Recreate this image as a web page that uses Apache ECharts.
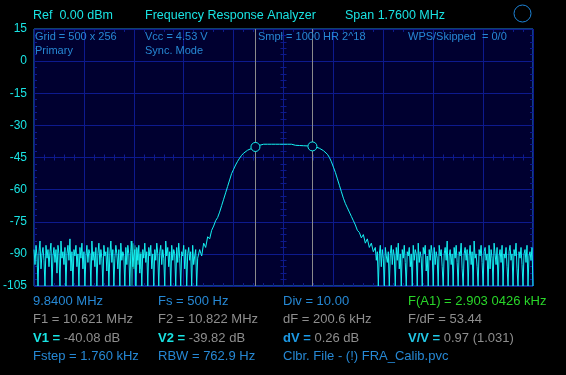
<!DOCTYPE html>
<html>
<head>
<meta charset="utf-8">
<script src="https://cdn.jsdelivr.net/npm/echarts@6/dist/echarts.min.js"></script>
<style>
html,body{margin:0;padding:0;background:#000;}
#c{width:566px;height:375px;}
</style>
</head>
<body>
<div id="c"></div>
<script>
// ---- data ----
var startMHz = 9.84;            // left edge of span
var spanMHz = 1.76;             // span
var yTicks = [15, 0, -15, -30, -45, -60, -75, -90, -105];

// left noise floor, sampled every 3.52 kHz from the start of span
var noiseLeftStartKHz = 0, noiseLeftStepKHz = 3.52;
var noiseLeft = [
  -88,-95,-86,-91,-105,-89,-84,-97,-90,-87,-93,-105,-86,-92,-88,
  -96,-89,-85,-105,-91,-87,-94,-88,-99,-86,-90,-105,-84,-92,-89,
  -95,-87,-105,-90,-86,-93,-83,-98,-89,-105,-88,-91,-86,-96,-90,
  -105,-87,-92,-85,-97,-89,-105,-91,-86,-94,-88,-90,-105,-84,-93,
  -89,-96,-87,-105,-90,-85,-95,-88,-92,-105,-86,-91,-89,-98,-87,
  -105,-90,-84,-94,-88,-105,-92,-86,-90,-97,-88,-105,-85,-93,-89,
  -91,-105,-87,-95,-86,-90,-105,-89,-84,-96,-91,-88,-105,-87,-93,
  -86,-99,-90,-105,-88,-92,-85,-94,-89,-105,-87,-91,-86,-97,-90,
  -105,-88,-93,-85,-90,-105,-89,-86,-95,-88,-92,-105,-84,-91,-87,
  -96,-89,-105,-86,-93,-88,-90,-105,-87,-94,-85,-92,-105,-89,-91,
  -86,-97,-88,-105,-90,-87,-93,-89,-105,-86,-95,-91,-88,-105,-92
];
// filter response, sampled every 7.04 kHz
var passStartKHz = 584.32, passStepKHz = 7.04;
var passband = [
  -88,-91,-85,-87,-82,-83,-79,-77,-74.5,-73,
  -70.5,-67.5,-64.5,-61.5,-58.5,-55.5,-52.5,-50.5,-48.5,-46.8,
  -45.3,-44,-43,-42.2,-41.6,-41.2,-40.8,-40.5,-40.1,-39.8,
  -39.3,-39.0,-38.8,-38.8,-38.8,-38.8,-38.8,-38.8,-38.8,-38.8,
  -38.8,-38.8,-38.8,-38.8,-38.8,-38.8,-38.8,-38.9,-39.3,-39.4,
  -39.4,-39.5,-39.5,-39.5,-39.6,-39.6,-39.7,-39.8,-40.0,-40.3,
  -40.7,-41.2,-41.8,-42.5,-43.5,-45,-47,-49.5,-52,-55,
  -58,-61,-64,-66.5,-68.5,-70.5,-72.5,-74.5,-76.5,-79,
  -80,-82.5,-81,-85,-83,-87,-85,-89
];
// right noise floor, sampled every 3.52 kHz
var noiseRightStartKHz = 1203.84, noiseRightStepKHz = 3.52;
var noiseRight = [
  -87,-93,-89,-105,-90,-86,-96,-88,-92,-105,-87,-91,-94,-89,-105,
  -90,-86,-95,-88,-91,-105,-87,-93,-85,-97,-90,-105,-88,-92,-86,
  -94,-105,-89,-91,-87,-96,-90,-105,-86,-93,-88,-90,-105,-85,-94,
  -89,-92,-105,-87,-90,-86,-98,-91,-105,-88,-93,-86,-90,-105,-87,
  -95,-89,-92,-105,-86,-91,-88,-96,-105,-90,-87,-93,-84,-105,-91,
  -88,-95,-90,-105,-87,-92,-86,-94,-105,-89,-91,-85,-97,-105,-90,
  -87,-93,-88,-105,-91,-86,-95,-89,-105,-84,-92,-90,-96,-105,-88,
  -91,-86,-94,-105,-89,-87,-93,-90,-105,-86,-97,-88,-92,-105,-85,
  -90,-95,-87,-105,-91,-88,-94,-86,-105,-90,-92,-87,-96,-105,-89,
  -86,-93,-90,-105,-88,-91,-85,-97,-105,-89,-92,-87,-95,-105,-90,
  -88,-94,-86,-105,-91,-89,-93,-87,-105
];
// faint held trace fragment (darker teal) inside left noise
var heldStartKHz = 342.0, heldStepKHz = 3.52;
var held = [-84, -105, -85, -97, -86, -105, -88, -95, -90, -97, -89];

var markerF = [10.621, 10.822];   // MHz
var markerV = [-40.08, -39.82];   // dB

// ---- build ----
function seg(vals, start, step) { return vals.map(function (v, i) { return [start + i * step, v]; }); }
var trace = seg(noiseLeft, noiseLeftStartKHz, noiseLeftStepKHz)
  .concat(seg(passband, passStartKHz, passStepKHz))
  .concat(seg(noiseRight, noiseRightStartKHz, noiseRightStepKHz));
var heldTrace = seg(held, heldStartKHz, heldStepKHz);
var spanKHz = spanMHz * 1000;
var mk = markerF.map(function (f) { return Math.round((f - startMHz) * 1000); });

var BG = '#000030', GRID = '#0d1a8e', FRAME = '#1e84d8', CYAN = '#14f2f2';
var LBL = '#19e3e3', BLUE = '#2688d4', GRAY = '#8e8e8e', GREEN = '#29d629';
var FONT = '"Liberation Sans", Arial, sans-serif';

function tickAxisX(extra) {
  var o = {
    type: 'value', min: 0, max: spanKHz, interval: spanKHz / 10,
    axisLabel: { show: false }, splitLine: { show: false },
    axisLine: { show: false, onZero: false },
    axisTick: { show: true, inside: true, length: 3, lineStyle: { color: GRID } },
    minorTick: { show: true, splitNumber: 5, length: 3, lineStyle: { color: GRID } }
  };
  for (var k in extra) o[k] = extra[k];
  return o;
}
function tickAxisY(extra) {
  var o = {
    type: 'value', min: -105, max: 15, interval: 15,
    axisLabel: { show: false }, splitLine: { show: false },
    axisLine: { show: false, onZero: false },
    axisTick: { show: true, inside: true, length: 3, lineStyle: { color: GRID } },
    minorTick: { show: true, splitNumber: 5, length: 3, lineStyle: { color: GRID } }
  };
  for (var k in extra) o[k] = extra[k];
  return o;
}

function txt(x, y, text, color, size, rich) {
  var st = { text: text, fill: color, font: size + 'px ' + FONT,
             verticalAlign: 'middle', textVerticalAlign: 'middle' };
  if (rich) st.rich = rich;
  return { type: 'text', x: x, y: y, style: st, z: 10 };
}
function kv(kc) {
  return { a: { fill: kc, font: 'bold 13px ' + FONT }, b: { fill: GRAY, font: '13px ' + FONT } };
}

var chart = echarts.init(document.getElementById('c'), null, { renderer: 'canvas' });
chart.setOption({
  backgroundColor: '#000',
  animation: false,
  grid: { left: 33, top: 29, width: 500, height: 257, show: true,
          backgroundColor: BG, borderColor: FRAME, borderWidth: 1 },
  xAxis: [
    tickAxisX({ position: 'bottom', splitLine: { show: true, lineStyle: { color: GRID, width: 1 } } }),
    tickAxisX({ position: 'top' }),
    tickAxisX({ axisLine: { show: false, onZero: true, onZeroAxisIndex: 2 } }),
    tickAxisX({ axisLine: { show: false, onZero: true, onZeroAxisIndex: 2 },
                axisTick: { show: true, inside: false, length: 3, lineStyle: { color: GRID } } }),
    { type: 'value', min: -1, max: 1, show: false, axisLine: { onZero: false } }
  ],
  yAxis: [
    tickAxisY({ position: 'left', splitLine: { show: true, lineStyle: { color: GRID, width: 1 } },
                axisLabel: { show: true, color: LBL, fontSize: 12, fontFamily: FONT, margin: 7,
                             formatter: function (v) { return yTicks.indexOf(v) >= 0 ? String(v) : ''; } } }),
    tickAxisY({ position: 'right' }),
    { type: 'value', min: -1, max: 1, show: false, axisLine: { onZero: false } },
    tickAxisY({ axisLine: { show: false, onZero: true, onZeroAxisIndex: 4 } }),
    tickAxisY({ axisLine: { show: false, onZero: true, onZeroAxisIndex: 4 },
                axisTick: { show: true, inside: false, length: 3, lineStyle: { color: GRID } } })
  ],
  series: [{
    type: 'line', xAxisIndex: 0, yAxisIndex: 0, data: heldTrace,
    showSymbol: false, symbol: 'none', silent: true,
    lineStyle: { color: '#0d7f86', width: 1.5 }, z: 2
  }, {
    type: 'line', xAxisIndex: 0, yAxisIndex: 0, data: trace,
    showSymbol: false, symbol: 'none',
    lineStyle: { color: CYAN, width: 1 },
    z: 3,
    markLine: {
      silent: true, symbol: 'none', label: { show: false },
      lineStyle: { color: '#8a8a8a', width: 1, type: 'solid' },
      data: [{ xAxis: mk[0] }, { xAxis: mk[1] }]
    },
    markPoint: {
      silent: true, symbol: 'circle', symbolSize: 9, label: { show: false },
      itemStyle: { color: BG, borderColor: CYAN, borderWidth: 1 },
      data: [{ coord: [mk[0], markerV[0]] }, { coord: [mk[1], markerV[1]] }]
    }
  }],
  graphic: [
    txt(33, 16, 'Ref  0.00 dBm', LBL, 12.5),
    txt(145, 16, 'Frequency Response Analyzer', LBL, 12.5),
    txt(345, 16, 'Span 1.7600 MHz', LBL, 12.5),
    { type: 'circle', shape: { cx: 522.5, cy: 13.5, r: 8.5 },
      style: { fill: 'none', stroke: FRAME, lineWidth: 1 } },
    txt(35, 37, 'Grid = 500 x 256', BLUE, 11),
    txt(35, 51, 'Primary', BLUE, 11),
    txt(145, 37, 'Vcc = 4.53 V', BLUE, 11),
    txt(145, 51, 'Sync. Mode', BLUE, 11),
    txt(258, 37, 'Smpl = 1000 HR 2^18', BLUE, 11),
    txt(408, 37, 'WPS/Skipped  = 0/0', BLUE, 11),

    txt(33, 301, '9.8400 MHz', BLUE, 13),
    txt(158, 301, 'Fs = 500 Hz', BLUE, 13),
    txt(283, 301, 'Div = 10.00', BLUE, 13),
    txt(408, 301, 'F(A1) = 2.903 0426 kHz', GREEN, 13),

    txt(33, 319, 'F1 = 10.621 MHz', GRAY, 13),
    txt(158, 319, 'F2 = 10.822 MHz', GRAY, 13),
    txt(283, 319, 'dF = 200.6 kHz', GRAY, 13),
    txt(408, 319, 'F/dF = 53.44', GRAY, 13),

    txt(33, 338, '{a|V1 =} {b|-40.08 dB}', GRAY, 13, kv(LBL)),
    txt(158, 338, '{a|V2 =} {b|-39.82 dB}', GRAY, 13, kv(LBL)),
    txt(283, 338, '{a|dV =} {b|0.26 dB}', GRAY, 13, kv('#1c9ae6')),
    txt(408, 338, '{a|V/V =} {b|0.97 (1.031)}', GRAY, 13, kv('#22c8e6')),

    txt(33, 356, 'Fstep = 1.760 kHz', BLUE, 13),
    txt(158, 356, 'RBW = 762.9 Hz', BLUE, 13),
    txt(283, 356, 'Clbr. File - (!) FRA_Calib.pvc', BLUE, 13)
  ]
});
</script>
</body>
</html>
